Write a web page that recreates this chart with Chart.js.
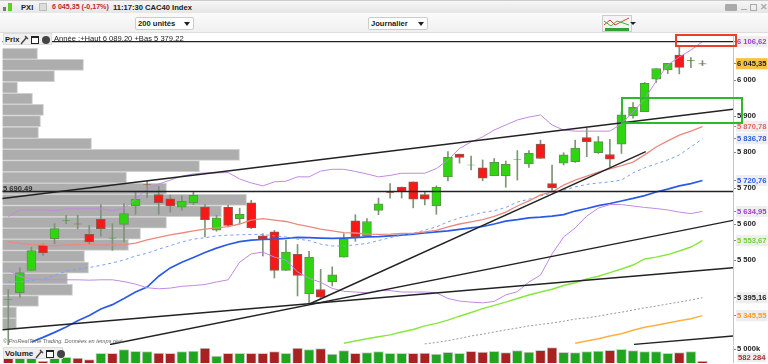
<!DOCTYPE html>
<html lang="fr">
<head>
  <meta charset="UTF-8">
  <title>PXI - CAC40 Index</title>
  <script src="https://cdn.jsdelivr.net/npm/chart.js@4"></script>
  <style>
    html, body { margin: 0; padding: 0; background: #fff; overflow: hidden; }
    #page { position: relative; width: 768px; height: 364px; filter: blur(0.5px); font: bold 7.6px "Liberation Sans", Arial, sans-serif; color: #222; }
    #page canvas { position: absolute; left: 0; }
    .abs { position: absolute; white-space: nowrap; }
    .row1 { left: 0; top: 0; width: 768px; height: 13px; background: linear-gradient(#f6f6f6, #e6e6e6); border-top: 1px solid #ccc; box-sizing: border-box; }
    .row2 { left: 0; top: 13px; width: 768px; height: 20px; background: linear-gradient(#fbfbfb, #f0f0f0); border-bottom: 1px solid #ddd; box-sizing: border-box; }
    .select { top: 17px; height: 13px; background: #fff; border: 1px solid #ccc; border-radius: 2px; line-height: 12px; padding-left: 2px; box-sizing: border-box; }
    .select i { position: absolute; right: 3px; top: 4px; width: 0; height: 0; border: 3px solid transparent; border-top: 4px solid #222; }
    .pane { background: #efefef; border: 1px solid #ddd; box-sizing: border-box; line-height: 11px; padding-left: 1px; }
    .win { position: absolute; top: 2px; width: 6px; height: 5px; border: 1px solid #222; border-top-width: 2px; background: #fff; }
    .cls { position: absolute; top: 2px; width: 8px; height: 8px; border-radius: 50%; background: #444; }
    .wr { position: absolute; top: 1px; }
  </style>
</head>
<body>
<div id="page">
  <canvas id="priceChart" width="768" height="311" style="top:34px"></canvas>
  <canvas id="volumeChart" width="768" height="17" style="top:346px"></canvas>

  <div class="abs row1"></div>
  <div class="abs row2"></div>
  <svg class="abs" style="left:2px;top:2px" width="12" height="11"><rect x="1" y="5" width="3" height="4" fill="#777"/><rect x="6" y="1" width="4" height="8" fill="#5fd020"/></svg>
  <span class="abs" style="left:21px;top:3px">PXI</span>
  <span class="abs" style="left:39px;top:3px;width:6px;height:6px;border:1px solid #bbb;background:#ddd"></span>
  <span class="abs" style="left:52px;top:3px;color:#c0272d;font-size:7.1px">6 045,35 (-0,17%)</span>
  <span class="abs" style="left:113px;top:3px">11:17:30 CAC40 Index</span>
  <div class="abs select" style="left:135px;width:59px">200 unités<i></i></div>
  <div class="abs select" style="left:368px;width:60px">Journalier<i></i></div>
  <svg class="abs" style="left:602px;top:15px" width="34" height="18"><rect x="0.5" y="0.5" width="29" height="16" fill="#f4f4f4" stroke="#ccc"/><path d="M2 10 L8 5 L13 10 L19 7 L27 3" stroke="#e04030" fill="none"/><path d="M2 6 L9 11 L15 6 L27 10" stroke="#40b040" fill="none"/><rect x="3" y="13" width="24" height="3" fill="#35a035"/><path d="M26 7 h6 l-3 3z" transform="translate(2 0)" fill="#222"/></svg>
  <span class="abs" style="left:725px;top:4px;width:12px;height:7px;background:#aaa;border-radius:1px"></span>
  <span class="abs" style="left:741px;top:9px;width:6px;height:1px;background:#aaa"></span>
  <span class="abs" style="left:750px;top:4px;width:5px;height:5px;border:1px solid #aaa"></span>
  <span class="abs" style="left:760px;top:2px;color:#aaa;font-size:9px">✕</span>

  <div class="abs pane" style="left:3px;top:33px;width:49px;height:12px">Prix
    <svg class="wr" style="left:16px" width="9" height="10"><path d="M1 9 L6 3 M5 1 L8 4" stroke="#444" fill="none" stroke-width="1.4"/></svg>
    <span class="win" style="left:27px"></span><span class="cls" style="left:38px"></span></div>
  <span class="abs" style="left:54px;top:34px;font-weight:normal">Année :+Haut 6 089,20 +Bas 5 379,22</span>
  <span class="abs" style="left:3px;top:184px;color:#333">5 690,49</span>
  <span class="abs" style="left:3px;top:338px;font:italic 5.6px 'Liberation Sans',Arial,sans-serif;color:#666">© ProRealTime Trading. Données en temps réel</span>
  <div class="abs pane" style="left:3px;top:347px;width:60px;height:12px;font-size:8px">Volume
    <svg class="wr" style="left:31px" width="9" height="10"><path d="M1 9 L6 3 M5 1 L8 4" stroke="#444" fill="none" stroke-width="1.4"/></svg>
    <span class="win" style="left:42px"></span><span class="cls" style="left:53px"></span></div>
  <span class="abs" style="left:737px;top:353px;color:#b03030;background:#eee;padding:0 1px">582 284</span>

  <div class="abs" style="left:675px;top:34px;width:62px;height:13px;border:2px solid #e8402a;box-sizing:border-box"></div>
  <div class="abs" style="left:621px;top:97px;width:122px;height:27px;border:2px solid #2eb82e;box-sizing:border-box"></div>
</div>

<script>
  // candles (index 0 = first candle on the left)
  const opens  = [5390,5409,5471,5541,5559,5608,5601,5571,5613,5560,5599,5650,5710,5682,5670,5647,5659,5647,5583,5647,5615,5659,5567,5578,5471,5516,5406,5418,5439,5508,5609,5567,5638,5688,5702,5717,5682,5650,5731,5794,5763,5756,5734,5734,5779,5767,5822,5712,5769,5773,5840,5798,5793,5822,5900,5912,6002,6028,6069,6053,6046];
  const closes = [5392,5465,5526,5520,5587,5610,5599,5550,5587,5562,5629,5669,5708,5659,5650,5663,5680,5612,5617,5596,5627,5590,5557,5471,5522,5457,5508,5397,5459,5559,5564,5607,5656,5686,5690,5669,5669,5702,5785,5785,5765,5727,5771,5766,5781,5796,5782,5700,5792,5810,5829,5829,5780,5903,5924,5991,6032,6046,6035,6055,6044];
  const highs  = [5418,5478,5536,5545,5601,5624,5624,5596,5654,5601,5657,5691,5719,5705,5680,5678,5689,5654,5624,5652,5644,5666,5573,5582,5555,5543,5524,5474,5481,5573,5626,5615,5672,5712,5703,5717,5690,5706,5801,5794,5789,5778,5782,5775,5804,5804,5833,5764,5798,5833,5866,5843,5835,5912,5937,5993,6032,6046,6091,6062,6054];
  const lows   = [5263,5397,5471,5513,5545,5601,5587,5543,5566,5527,5550,5627,5673,5627,5633,5638,5654,5564,5580,5592,5601,5587,5511,5450,5471,5400,5379,5393,5428,5508,5552,5567,5626,5672,5672,5645,5653,5627,5720,5769,5750,5720,5734,5702,5722,5757,5782,5693,5764,5771,5787,5796,5759,5796,5894,5912,5993,6018,6017,6034,6040];

  // moving averages and bands
  const bandUpper = [5620,5639,5639,5639,5637,5642,5642,5642,5642,5637,5644,5669,5697,5711,5722,5733,5739,5742,5742,5743,5725,5714,5706,5717,5719,5731,5731,5747,5752,5752,5746,5739,5731,5735,5741,5741,5741,5754,5778,5810,5828,5842,5861,5875,5889,5897,5903,5875,5861,5858,5858,5858,5858,5878,5911,5947,5997,6042,6064,6083,6106.62];
  const bandLower = [5472,5454,5447,5445,5445,5445,5445,5444,5445,5445,5440,5433,5423,5420,5422,5427,5429,5432,5439,5445,5494,5517,5522,5508,5500,5467,5449,5438,5421,5413,5411,5409,5415,5415,5411,5411,5411,5409,5393,5386,5383,5381,5385,5403,5412,5439,5458,5517,5564,5589,5622,5644,5654,5654,5650,5646,5643,5639,5633,5629,5634.95];
  const maRed = [5550,5546,5543,5542,5539,5542,5543,5543,5542,5542,5543,5547,5556,5563,5570,5575,5581,5586,5589,5593,5600,5611,5615,5611,5607,5599,5593,5586,5581,5576,5575,5572,5571,5572,5574,5574,5578,5582,5592,5600,5606,5612,5621,5633,5650,5664,5681,5689,5708,5722,5733,5744,5753,5762,5772,5792,5814,5831,5847,5858,5870.78];
  const maBlueDash = [5439,5440,5443,5447,5457,5469,5475,5479,5485,5492,5500,5511,5519,5530,5540,5550,5558,5562,5567,5569,5570,5571,5571,5567,5564,5558,5554,5544,5539,5539,5542,5546,5554,5562,5569,5574,5583,5592,5606,5617,5624,5632,5637,5646,5661,5669,5678,5686,5694,5703,5710,5714,5717,5722,5742,5756,5767,5778,5792,5814,5836.78];
  const maBlue = [null,null,5272,5285,5299,5314,5331,5346,5364,5376,5393,5411,5425,5455,5478,5494,5507,5521,5533,5543,5551,5555,5557,5558,5560,5563,5562,5561,5560,5561,5562,5564,5565,5567,5569,5572,5575,5578,5581,5585,5589,5593,5600,5608,5612,5617,5619,5622,5626,5636,5643,5651,5657,5664,5671,5679,5689,5697,5706,5712,5720.76];
  const maGreen = [null,null,null,null,null,null,null,null,null,null,null,null,null,null,null,null,null,null,null,null,null,null,null,null,null,null,null,null,null,5269,5275,5281,5287,5292,5300,5307,5317,5324,5333,5344,5354,5365,5374,5383,5393,5403,5411,5419,5429,5437,5447,5455,5465,5475,5486,5503,5508,5515,5525,5536,5553.67];
  const maGreyDash = [null,null,null,null,null,null,null,null,null,null,null,null,null,null,null,null,null,null,null,null,null,null,null,null,null,null,null,null,null,null,null,null,null,null,null,null,5267,5271,5276,5282,5289,5294,5300,5306,5311,5317,5321,5325,5330,5336,5339,5344,5350,5355,5361,5367,5372,5378,5383,5389,5395.16];
  const maOrange = [null,null,null,null,null,null,null,null,null,null,null,null,null,null,null,null,null,null,null,null,null,null,null,null,null,null,null,null,null,null,null,null,null,null,null,null,null,null,null,null,null,null,null,null,null,null,null,null,null,5269,5275,5281,5289,5295,5305,5313,5319,5325,5331,5337,5345.55];

  // hand drawn trend lines: [candle index, price] at each end
  const trendLines = [
    [[-0.5, 6106.62], [62.64, 6106.62]],
    [[-0.5, 5690.49], [62.64, 5690.49]],
    [[-0.5, 5670.8], [62.64, 5918.6]],
    [[-0.5, 5306.3], [62.64, 5478.5]],
    [[8.79, 5265.2], [62.64, 5610.2]],
    [[26.08, 5378.5], [55.1, 5800.8]],
    [[54.08, 5265.7], [62.64, 5288.8]]
  ];

  // volume profile on the left
  const profilePrices = [6073,6042,6011,5979,5948,5917,5886,5854,5823,5792,5761,5729,5698,5667,5636,5604,5573,5542,5511,5479,5448,5417,5386,5354,5323];
  const profileSizes = [35,81,52,15,30,41,38,36,89,237,197,124,164,244,219,164,138,126,82,86,65,70,36,14,14];

  // volume pane (thousands)
  const volumes = [2069,2069,2069,608,2069,2069,1825,1217,3529,3529,4868,4260,4138,3651,3529,4138,4381,5476,2556,3529,3529,3529,3529,4138,3529,5476,4868,5233,3286,4503,3529,3773,4138,3529,3529,3529,3651,3286,3894,3529,4260,4016,4260,3773,4503,4016,4625,5598,3894,3773,4138,4381,4625,4990,4503,4138,4138,3529,3773,4138,582];
  const volumeDownBars = [0,3,6,7,9,13,14,17,19,21,22,23,25,27,30,35,36,40,41,43,46,47,52,58,60];

  // right axis
  const tickValues = [6106.62,6045.35,6000,5900,5870.78,5836.78,5800,5720.76,5700,5634.95,5600,5553.67,5500,5395.16,5345.55];
  const tickLabels = ['6 106,62','6 045,35','6 000','5 900','5 870,78','5 836,78','5 800','5 720,76','5 700','5 634,95','5 600','5 553,67','5 500','5 395,16','5 345,55'];
  const tickColors = ['#a040d0','#222','#222','#222','#e06a60','#2a5be8','#222','#2a5be8','#222','#a040d0','#222','#70d030','#222','#222','#ff9a20'];
  const tickBacks  = ['#eee','#f5c242','rgba(0,0,0,0)','rgba(0,0,0,0)','#eee','#eee','rgba(0,0,0,0)','#eee','rgba(0,0,0,0)','#eee','rgba(0,0,0,0)','#eee','rgba(0,0,0,0)','#eee','#eee'];

  const font = { family: '"Liberation Sans", Arial, sans-serif', size: 7.6, weight: 'bold' };
  const xRange = { type: 'linear', display: false, min: -0.717, max: 62.64, offset: false, grid: { display: false } };
  const isUp = i => closes[i] >= opens[i];
  const isDoji = i => Math.abs(closes[i] - opens[i]) < 5;
  const pts = arr => arr.map((v, i) => ({ x: i, y: v }));

  const line = (data, color, width, dash) => ({
    type: 'line', data: pts(data), borderColor: color, borderWidth: width,
    borderDash: dash || [], pointRadius: 0, tension: 0, order: 2, spanGaps: false
  });

  const rightAxis = (values) => ({
    position: 'right',
    offset: false,
    grid: { drawOnChartArea: false, tickLength: 3, tickColor: '#888', offset: false },
    border: { display: true, color: '#c4c4c4' },
    afterFit(scale) { scale.width = 35; scale.paddingTop = 0; scale.paddingBottom = 0; },
    afterBuildTicks(scale) { scale.ticks = values.map(v => ({ value: v })); }
  });

  const priceAxis = Object.assign(rightAxis(tickValues), {
    min: 5263.9,
    max: 6127.8,
    ticks: {
      autoSkip: false,
      font,
      padding: 1,
      crossAlign: 'near',
      showLabelBackdrop: true,
      backdropPadding: 1,
      backdropColor: ctx => tickBacks[ctx.index],
      color: ctx => tickColors[ctx.index],
      callback: (v, i) => tickLabels[i]
    }
  });

  new Chart(document.getElementById('priceChart'), {
    type: 'bar',
    data: {
      datasets: [
        line(bandUpper, '#c08ae0', 1),
        line(bandLower, '#c08ae0', 1),
        line(maRed, '#e88a80', 1.3),
        line(maBlueDash, '#7aa0f0', 1, [3, 3]),
        line(maBlue, '#2a5be8', 1.7),
        line(maGreen, '#88e83c', 1.5),
        line(maGreyDash, '#999', 1, [2, 2]),
        line(maOrange, '#ffb040', 1.5),
        ...trendLines.map(t => ({
          type: 'line', data: t.map(p => ({ x: p[0], y: p[1] })),
          borderColor: '#222', borderWidth: 1.4, pointRadius: 0, order: 1
        })),
        {
          data: lows.map((l, i) => ({ x: i, y: [l, highs[i]] })),
          backgroundColor: '#7d9478', barThickness: 1, grouped: false, order: 4
        },
        {
          data: opens.map((o, i) => ({ x: i, y: [o, closes[i]] })),
          backgroundColor: c => isDoji(c.dataIndex) ? (isUp(c.dataIndex) ? '#3f9a28' : '#a04a28') : (isUp(c.dataIndex) ? '#2fd610' : '#f81818'),
          borderColor: c => isDoji(c.dataIndex) ? 'rgba(0,0,0,0)' : (isUp(c.dataIndex) ? '#5f9050' : '#8c5a50'),
          borderWidth: 1, borderSkipped: false, barThickness: 9, grouped: false, order: 3
        },
        {
          indexAxis: 'y', xAxisID: 'xProfile', yAxisID: 'y',
          data: profilePrices.map((p, i) => ({ x: profileSizes[i], y: p })),
          backgroundColor: '#adadad', borderColor: '#cfcfcf', borderWidth: 1,
          barThickness: 11, grouped: false, order: 9
        }
      ]
    },
    options: {
      responsive: false,
      animation: false,
      layout: { padding: 0 },
      plugins: { legend: { display: false }, tooltip: { enabled: false } },
      scales: {
        x: xRange,
        xProfile: { type: 'linear', axis: 'x', display: false, min: -2.5, max: 730.5, offset: false, grid: { display: false, offset: false } },
        y: priceAxis
      }
    }
  });

  new Chart(document.getElementById('volumeChart'), {
    type: 'bar',
    data: {
      datasets: [{
        data: volumes.map((v, i) => ({ x: i, y: v })),
        backgroundColor: c => volumeDownBars.includes(c.dataIndex) ? '#a82222' : '#1fa51f',
        borderColor: '#cfcfcf', borderWidth: 1, barThickness: 10
      }]
    },
    options: {
      responsive: false,
      animation: false,
      layout: { padding: 0 },
      plugins: { legend: { display: false }, tooltip: { enabled: false } },
      scales: {
        x: xRange,
        y: Object.assign(rightAxis([5000]), {
          min: 0,
          max: 6205,
          ticks: { autoSkip: false, font, padding: 1, crossAlign: 'near', color: '#222', callback: () => '5 000k' }
        })
      }
    }
  });
</script>
</body>
</html>
